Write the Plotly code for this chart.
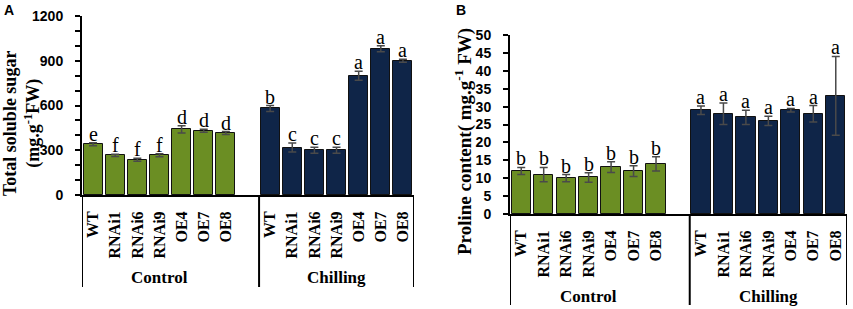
import plotly.graph_objects as go

# ---------------- data ----------------
genotypes = ["WT", "RNAi1", "RNAi6", "RNAi9", "OE4", "OE7", "OE8"]
groups = ["Control", "Chilling"]

sugar_control = [340, 266, 236, 266, 440, 430, 415]
sugar_control_err = [10, 8, 10, 10, 25, 10, 10]
sugar_control_sig = ["e", "f", "f", "f", "d", "d", "d"]
sugar_chilling = [580, 318, 300, 300, 800, 980, 900]
sugar_chilling_err = [20, 30, 20, 20, 30, 20, 10]
sugar_chilling_sig = ["b", "c", "c", "c", "a", "a", "a"]

proline_control = [12, 11, 10, 10.2, 13.1, 12, 14]
proline_control_err = [1.0, 2.0, 1.0, 1.3, 1.5, 1.5, 2.0]
proline_control_sig = ["b", "b", "b", "b", "b", "b", "b"]
proline_chilling = [29, 28, 27, 26, 29, 28, 33]
proline_chilling_err = [1.2, 3.0, 2.0, 1.3, 0.5, 2.3, 11.0]
proline_chilling_sig = ["a", "a", "a", "a", "a", "a", "a"]

sugar_ticks = list(range(0, 1201, 100))
proline_ticks = list(range(0, 51, 5))

GREEN = "#6B8E23"
NAVY = "#0F2548"
W, H = 853, 309

def px_x(p):
    return p / W

def px_y(p):
    return 1 - p / H

# positions: control 0..6, blank slot 7, chilling 8..14
n = len(genotypes)
pos_control = list(range(n))
pos_chilling = [i + n + 1 for i in range(n)]
tick_pos = pos_control + pos_chilling
tick_text = genotypes + genotypes
group_centers = [(n) / 2 - 0.5, n + 1 + (n - 1) / 2]
separators = [-0.5, n + 0.5, 2 * n + 0.5]

fig = go.Figure()

panels = [
    dict(xa="x", ya="y", vals=(sugar_control, sugar_chilling),
         errs=(sugar_control_err, sugar_chilling_err),
         sigs=(sugar_control_sig, sugar_chilling_sig)),
    dict(xa="x2", ya="y2", vals=(proline_control, proline_chilling),
         errs=(proline_control_err, proline_chilling_err),
         sigs=(proline_control_sig, proline_chilling_sig)),
]

for p in panels:
    for positions, v, e, color in ((pos_control, p["vals"][0], p["errs"][0], GREEN),
                                    (pos_chilling, p["vals"][1], p["errs"][1], NAVY)):
        fig.add_trace(go.Bar(
            x=positions, y=v, width=0.86, xaxis=p["xa"], yaxis=p["ya"],
            marker=dict(color=color, line=dict(color="#111111", width=1)),
            error_y=dict(type="data", array=e, color="#4a4a4a", thickness=1.5, width=4),
            showlegend=False, hoverinfo="skip",
        ))
    for positions, v, e, s in ((pos_control, p["vals"][0], p["errs"][0], p["sigs"][0]),
                                (pos_chilling, p["vals"][1], p["errs"][1], p["sigs"][1])):
        for xi, vi, ei, si in zip(positions, v, e, s):
            fig.add_annotation(x=xi, y=vi + ei, xref=p["xa"], yref=p["ya"], text=si,
                               showarrow=False, yanchor="bottom", yshift=-4,
                               font=dict(family="Liberation Serif", size=20, color="black"))

tickfont_y = dict(family="Liberation Sans", size=14, color="black")
tickfont_x = dict(family="Liberation Serif", size=16, color="black")

common_x = dict(range=[-0.5, 2 * n + 0.5], tickmode="array", tickvals=tick_pos,
                ticktext=["<b>%s</b>" % t for t in tick_text], tickangle=-90,
                showline=True, linecolor="black", linewidth=2, ticks="",
                showgrid=False, zeroline=False, tickfont=tickfont_x,
                ticklabelstandoff=8, fixedrange=True, automargin=False)

common_y = dict(showline=True, linecolor="black", linewidth=2, ticks="outside",
                ticklen=5, tickwidth=2, tickcolor="black", showgrid=False,
                zeroline=False, tickfont=tickfont_y, ticklabelstandoff=9,
                automargin=False, fixedrange=True)

fig.update_layout(
    width=W, height=H, margin=dict(l=0, r=0, t=0, b=0, autoexpand=False),
    paper_bgcolor="white", plot_bgcolor="white", bargap=0,
    xaxis=dict(domain=[px_x(82), px_x(414)], anchor="y", **common_x),
    yaxis=dict(domain=[px_y(195), px_y(16)], anchor="x", range=[0, 1200],
               tickmode="array", tickvals=sugar_ticks,
               ticktext=["<b>%d</b>" % t if t % 300 == 0 else " " for t in sugar_ticks],
               **common_y),
    xaxis2=dict(domain=[px_x(510), px_x(847)], anchor="y2", **common_x),
    yaxis2=dict(domain=[px_y(214), px_y(35)], anchor="x2", range=[0, 50],
                tickmode="array", tickvals=proline_ticks,
                ticktext=["<b>%d</b>" % t for t in proline_ticks],
                **common_y),
)

# group separator lines and group labels
for xa, top, bottom, label_y in (("x", 195, 287, 277), ("x2", 214, 305, 296)):
    for s in separators:
        fig.add_shape(type="line", xref=xa, yref="paper", x0=s, x1=s,
                      y0=px_y(top), y1=px_y(bottom),
                      line=dict(color="black", width=2))
    for g, c in zip(groups, group_centers):
        fig.add_annotation(x=c, y=px_y(label_y), xref=xa, yref="paper",
                           text="<b>%s</b>" % g, showarrow=False,
                           xanchor="center", yanchor="middle",
                           font=dict(family="Liberation Serif", size=17, color="black"))

# y titles
fig.add_annotation(x=px_x(22), y=px_y(124), xref="paper", yref="paper",
                   text="<b>Total soluble sugar<br>(mg.g<sup>-1</sup>FW)</b>",
                   textangle=-90, showarrow=False, xanchor="center", yanchor="middle",
                   font=dict(family="Liberation Serif", size=18, color="black"))
fig.add_annotation(x=px_x(463), y=px_y(142), xref="paper", yref="paper",
                   text="<b>Proline content( mg.g<sup>-1</sup> FW)</b>",
                   textangle=-90, showarrow=False, xanchor="center", yanchor="middle",
                   font=dict(family="Liberation Serif", size=19, color="black"))

# panel letters
for letter, x in (("A", 9), ("B", 461)):
    fig.add_annotation(x=px_x(x), y=px_y(10), xref="paper", yref="paper",
                       text="<b>%s</b>" % letter, showarrow=False,
                       xanchor="center", yanchor="middle",
                       font=dict(family="Liberation Sans", size=14, color="black"))

fig.write_html(
    "out.html",
    config={"displayModeBar": False},
    post_script="document.body.style.margin='0';document.body.style.padding='0';"
                "document.body.style.overflow='hidden';",
)
